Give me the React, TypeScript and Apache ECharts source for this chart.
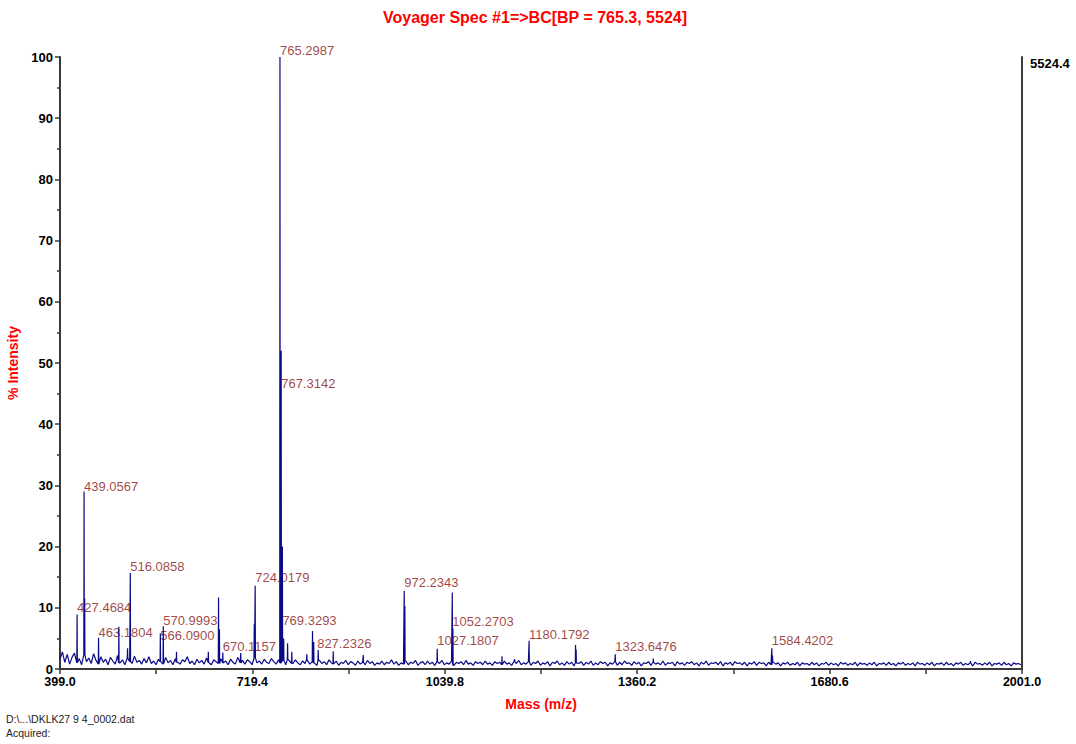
import React, { useEffect, useRef } from "react";
import * as echarts from "echarts";

// ---------- data ----------
const TITLE = "Voyager Spec #1=>BC[BP = 765.3, 5524]";
const X_MIN = 399.0;
const X_MAX = 2001.0;
const X_TICK_LABELS = [399.0, 719.4, 1039.8, 1360.2, 1680.6, 2001.0];
const X_MINOR_TICKS = [559.2, 879.6, 1200.0, 1520.4, 1840.8];
const BASE_START = 399;
const BASE_STEP = 4;
// baseline noise (% intensity), one value every 4 m/z from 399
const baseline = [
  1.6, 2.8, 1.1, 2.4, 0.8, 1.9, 2.6, 1.0, 1.7, 0.7, 2.3, 1.2, 1.8, 0.9, 2.5, 1.4, 0.8, 2.0, 1.1, 1.6,
  0.7, 1.9, 1.3, 0.8, 2.2, 1.0, 1.5, 0.7, 1.8, 1.2, 0.9, 2.1, 1.1, 1.4, 0.8, 1.7, 1.0, 2.0, 0.9, 1.3,
  0.7, 1.6, 1.2, 0.8, 1.9, 1.0, 1.4, 0.7, 1.7, 1.1, 0.8, 1.5, 1.2, 2.0, 0.9, 1.3, 0.7, 1.6, 1.0, 1.4,
  0.8, 1.8, 1.1, 0.7, 1.5, 1.2, 0.9, 1.7, 1.0, 1.3, 0.7, 1.6, 1.1, 0.8, 1.9, 1.0, 1.4, 0.8, 1.5, 1.2,
  0.7, 1.8, 1.0, 1.3, 0.8, 1.6, 1.1, 0.9, 1.7, 1.2, 0.8, 1.5, 1.0, 1.4, 0.7, 1.6, 1.1, 0.9, 1.5, 1.0,
  0.7, 1.3, 0.9, 1.5, 0.8, 1.2, 1.0, 0.6, 1.4, 0.9, 1.2, 0.7, 1.5, 1.0, 0.8, 1.3, 0.6, 1.1, 0.9, 1.4,
  0.7, 1.2, 1.0, 0.6, 1.3, 0.8, 1.1, 0.7, 1.4, 0.9, 1.2, 0.6, 1.0, 0.8, 1.3, 0.7, 1.1, 0.9, 1.5, 0.8,
  1.2, 0.6, 1.0, 0.8, 1.3, 0.7, 1.1, 0.9, 1.4, 0.6, 1.0, 1.2, 0.7, 1.3, 0.8, 1.1, 0.6, 1.2, 0.9, 1.4,
  0.7, 1.0, 0.8, 1.3, 0.6, 1.1, 0.9, 1.2, 0.7, 1.4, 0.8, 1.0, 0.6, 1.2, 0.9, 1.1, 0.7, 1.3, 0.8, 1.0,
  0.6, 1.2, 0.9, 1.1, 0.7, 1.3, 0.8, 1.0, 0.6, 1.2, 0.9, 1.4, 0.7, 1.0, 0.8, 1.2, 0.6, 1.1, 0.9, 1.3,
  0.6, 1.0, 0.8, 1.2, 0.5, 1.1, 0.9, 1.3, 0.7, 1.0, 0.6, 1.2, 0.8, 1.1, 0.5, 1.0, 0.9, 1.2, 0.6, 1.1,
  0.8, 1.3, 0.6, 1.0, 0.7, 1.2, 0.9, 1.1, 0.5, 1.0, 0.8, 1.2, 0.6, 1.1, 0.7, 1.3, 0.9, 1.0, 0.6, 1.2,
  0.8, 1.1, 0.5, 1.0, 0.9, 1.2, 0.6, 1.1, 0.8, 1.0, 0.7, 1.3, 0.6, 1.0, 0.9, 1.1, 0.5, 1.2, 0.8, 1.0,
  0.6, 1.1, 0.9, 1.2, 0.7, 1.0, 0.5, 1.1, 0.8, 1.3, 0.6, 1.0, 0.9, 1.1, 0.7, 1.2, 0.5, 1.0, 0.8, 1.1,
  0.6, 1.2, 0.9, 1.0, 0.7, 1.1, 0.5, 1.0, 0.8, 1.2, 0.6, 1.1, 0.9, 1.0, 0.5, 1.1, 0.7, 1.2, 0.8, 1.0,
  0.5, 1.0, 0.8, 1.1, 0.6, 0.9, 0.7, 1.1, 0.5, 1.0, 0.8, 0.9, 0.6, 1.1, 0.7, 1.0, 0.5, 0.9, 0.8, 1.1,
  0.6, 1.0, 0.7, 0.9, 0.5, 1.1, 0.8, 1.0, 0.6, 0.9, 0.7, 1.1, 0.5, 1.0, 0.8, 0.9, 0.6, 1.0, 0.7, 1.1,
  0.5, 0.9, 0.8, 1.0, 0.6, 1.1, 0.7, 0.9, 0.5, 1.0, 0.8, 1.1, 0.6, 0.9, 0.7, 1.0, 0.5, 1.1, 0.8, 0.9,
  0.6, 1.0, 0.7, 1.1, 0.5, 0.9, 0.8, 1.0, 0.6, 1.1, 0.7, 0.9, 0.5, 1.0, 0.8, 1.1, 0.6, 0.9, 0.7, 1.0,
  0.5, 1.1, 0.8, 0.9, 0.6, 1.0, 0.7, 1.1, 0.5, 0.9, 0.8, 1.0, 0.6, 1.1, 0.7, 0.9, 0.5, 1.0, 0.8, 0.9,
  0.7,
];
// peaks: [m/z, % intensity]
const peaks: [number, number][] = [
  [427.47, 8.9], [439.06, 29.0], [440.1, 11.5], [463.18, 5.1], [497.0, 6.9],
  [511.5, 3.4], [516.09, 15.7], [566.09, 5.8], [571.0, 7.0], [593.0, 2.8],
  [646.0, 2.8], [663.0, 11.7], [664.5, 6.5], [670.12, 2.7], [700.0, 2.6],
  [722.5, 7.3], [724.02, 13.6], [765.3, 100.0], [767.31, 52.0], [769.33, 20.0],
  [771.5, 5.0], [778.0, 4.2], [785.0, 2.8], [810.0, 2.4], [819.5, 6.2],
  [821.5, 4.4], [829.0, 3.1], [854.0, 2.9], [904.0, 2.3], [972.23, 12.8],
  [973.3, 10.3], [1027.18, 3.3], [1052.27, 12.5], [1053.3, 6.6], [1135.0, 2.1],
  [1156.0, 1.6], [1180.18, 4.6], [1257.5, 3.9], [1258.5, 3.2], [1323.65, 2.4],
  [1387.0, 1.7], [1584.42, 3.4], [1585.5, 2.2], [1915.0, 1.3],
];
// peak annotations: [label text, label height (% intensity)]
const annotations: [string, number][] = [
  ["765.2987", 101.1], ["767.3142", 46.7], ["439.0567", 29.9], ["427.4684", 10.1],
  ["463.1804", 6.0], ["516.0858", 16.8], ["570.9993", 8.0], ["566.0900", 5.4],
  ["670.1157", 3.6], ["724.0179", 14.9], ["769.3293", 8.0], ["827.2326", 4.2],
  ["972.2343", 14.1], ["1052.2703", 7.8], ["1027.1807", 4.6], ["1180.1792", 5.7],
  ["1323.6476", 3.6], ["1584.4202", 4.6],
];
const RIGHT_LABEL = "5524.4";
const FILE_TEXT = "D:\\...\\DKLK27 9 4_0002.dat";
const ACQ_TEXT = "Acquired:";

function buildSpectrum(): [number, number][] {
  const pts: [number, number][] = baseline.map((v, i) => [BASE_START + i * BASE_STEP, v]);
  for (const [m, h] of peaks) {
    const b = baseline[Math.min(baseline.length - 1, Math.round((m - BASE_START) / BASE_STEP))];
    pts.push([m - 0.4, b], [m, h], [m + 0.4, b]);
  }
  pts.sort((a, b) => a[0] - b[0]);
  return pts;
}

const FONT = "'Liberation Sans', Arial, sans-serif";

export default function App() {
  const ref = useRef<HTMLDivElement>(null);
  useEffect(() => {
    if (!ref.current) return;
    const chart = echarts.init(ref.current, undefined, { renderer: "svg" });
    const axisColor = "#3a3a3a";
    chart.setOption({
      animation: false,
      backgroundColor: "#ffffff",
      title: {
        text: TITLE,
        left: 378,
        top: 4,
        textStyle: { color: "#ff0000", fontWeight: "bold", fontSize: 16, fontFamily: FONT },
      },
      grid: { left: 60, right: 54, top: 57, bottom: 75, outerBoundsMode: "none", containLabel: false },
      xAxis: {
        type: "value",
        min: X_MIN,
        max: X_MAX,
        name: "Mass (m/z)",
        nameLocation: "middle",
        nameGap: 28,
        nameTextStyle: { color: "#ff0000", fontWeight: "bold", fontSize: 14, fontFamily: FONT, verticalAlign: "top" },
        axisLine: { show: true, onZero: false, lineStyle: { color: axisColor, width: 2 } },
        axisTick: {
          show: true,
          length: 5,
          customValues: [...X_TICK_LABELS, ...X_MINOR_TICKS],
          lineStyle: { color: axisColor, width: 1.5 },
        },
        axisLabel: {
          customValues: X_TICK_LABELS,
          formatter: (v: number) => v.toFixed(1),
          color: "#000",
          fontWeight: "bold",
          fontSize: 12.5,
          fontFamily: FONT,
          margin: 6,
        },
        splitLine: { show: false },
      },
      yAxis: [
        {
          type: "value",
          min: 0,
          max: 100,
          interval: 10,
          name: "% Intensity",
          nameLocation: "middle",
          nameGap: 36,
          nameTextStyle: { color: "#ff0000", fontWeight: "bold", fontSize: 14, fontFamily: FONT },
          axisLine: { show: true, lineStyle: { color: axisColor, width: 2 } },
          axisTick: { show: true, length: 5, lineStyle: { color: axisColor, width: 1.5 } },
          minorTick: { show: true, splitNumber: 2, length: 3, lineStyle: { color: axisColor, width: 1.5 } },
          axisLabel: { color: "#000", fontWeight: "bold", fontSize: 13, fontFamily: FONT, margin: 7 },
          splitLine: { show: false },
        },
        {
          type: "value",
          min: 0,
          max: 100,
          position: "right",
          axisLine: { show: true, lineStyle: { color: axisColor, width: 2 } },
          axisTick: { show: false },
          axisLabel: { show: false },
          splitLine: { show: false },
        },
      ],
      series: [
        {
          type: "line",
          data: buildSpectrum(),
          showSymbol: false,
          symbol: "none",
          silent: true,
          clip: true,
          lineStyle: { color: "#0a0a86", width: 1.2 },
        },
        {
          type: "scatter",
          symbolSize: 0,
          silent: true,
          clip: false,
          data: annotations.map(([t, y]) => ({ value: [parseFloat(t), y], name: t })),
          label: {
            show: true,
            position: "right",
            distance: 0,
            formatter: (p: any) => p.name,
            color: "#8a1414",
            fontSize: 13,
            fontFamily: FONT,
          },
        },
      ],
      graphic: [
        {
          type: "text",
          left: 1030,
          top: 57,
          style: { text: RIGHT_LABEL, fill: "#000", font: `bold 13px ${FONT}` },
        },
        {
          type: "text",
          left: 6,
          top: 713,
          style: { text: FILE_TEXT, fill: "#222", font: `10.5px ${FONT}` },
        },
        {
          type: "text",
          left: 6,
          top: 727,
          style: { text: ACQ_TEXT, fill: "#222", font: `10.5px ${FONT}` },
        },
      ],
    });
    return () => chart.dispose();
  }, []);
  return (
    <div
      ref={ref}
      style={{ position: "fixed", left: 0, top: 0, width: 1076, height: 744, background: "#fff" }}
    />
  );
}
